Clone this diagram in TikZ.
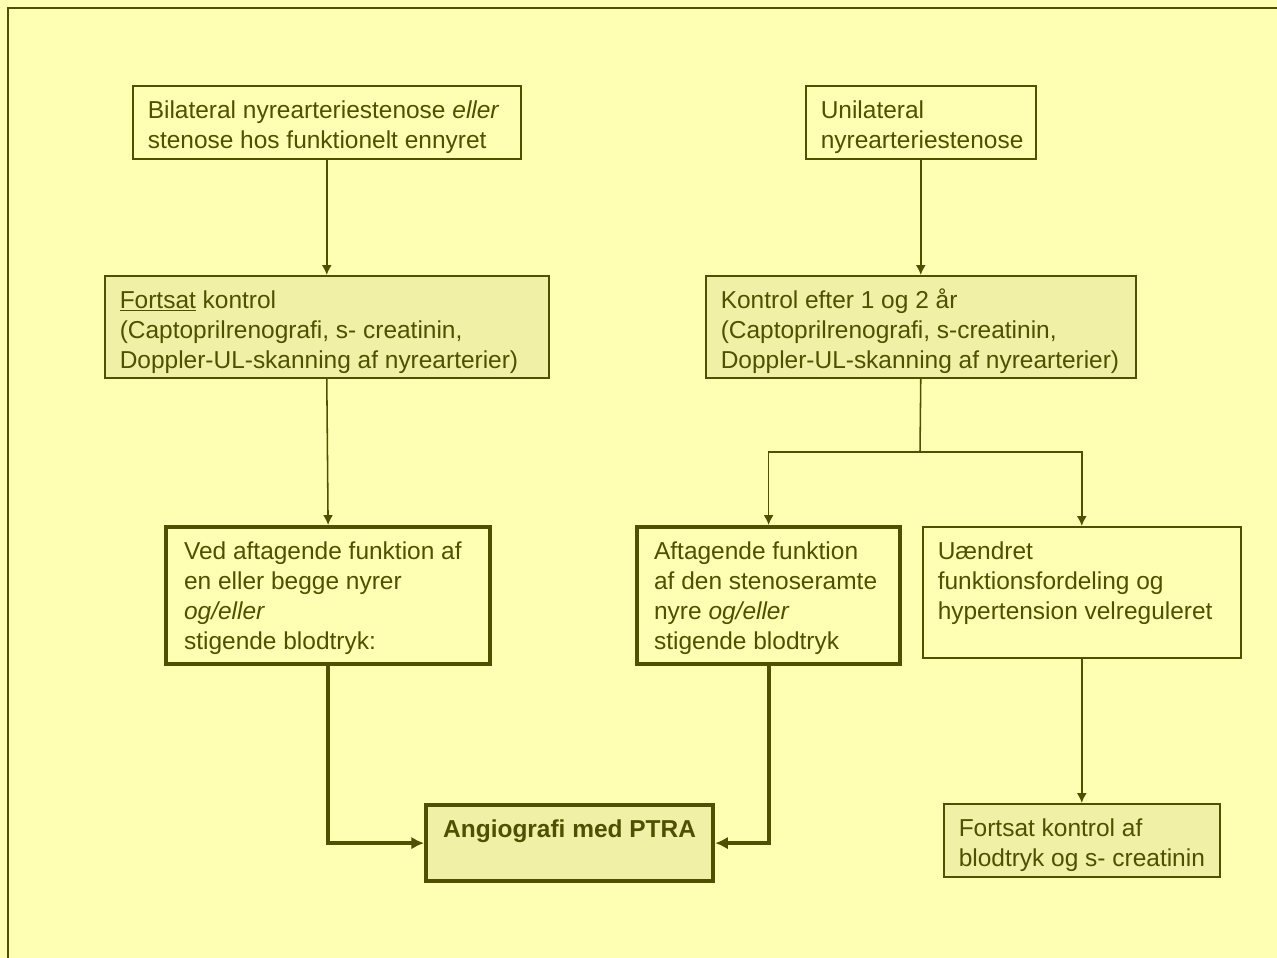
\documentclass[tikz,border=0pt]{standalone}
\usepackage{fontspec}
\setmainfont{Liberation Sans}
\usetikzlibrary{arrows.meta}

\definecolor{bgyellow}{HTML}{FFFFB3}
\definecolor{boxfill}{HTML}{F0F0A6}
\definecolor{olivedark}{HTML}{505000}

\newlength{\unitpx}
\setlength{\unitpx}{0.025cm}
% box text: [left pad]{width}{height}{text}, all in px
\newcommand{\boxtxt}[4][15]{\parbox[t][#3\unitpx][t]{#2\unitpx}{\vspace*{15\unitpx}\raggedright\leftskip=#1\unitpx\relax #4}}

\tikzset{
  plainbox/.style={draw=olivedark, line width=1.1pt, anchor=north west, inner sep=0pt,
    text=olivedark, font=\fontsize{17.4pt}{21.3pt}\selectfont},
  shadedbox/.style={plainbox, fill=boxfill},
  boldbox/.style={plainbox, line width=3pt},
  link/.style={draw=olivedark, line width=1.1pt, -{Latex[length=7pt,width=7pt]}},
  boldlink/.style={draw=olivedark, line width=2.8pt, -{Latex[length=9pt,width=9pt]}}
}

\begin{document}
\begin{tikzpicture}[x=0.025cm, y=-0.025cm]
			
			\fill[bgyellow] (0,0) rectangle (1277,958);
			\useasboundingbox (0,0) rectangle (1277,958);
			\draw[olivedark, line width=1.4pt] (8,958) -- (8,8) -- (1277,8);
			
			\node[plainbox] (bil) at (132,85) {\boxtxt{388}{73}{Bilateral nyrearteriestenose \emph{eller}\\ stenose hos funktionelt ennyret}};
			\node[plainbox] (uni) at (805,85) {\boxtxt{230}{73}{Unilateral\\ nyrearteriestenose}};
			\node[shadedbox] (fortsat) at (104,275) {\boxtxt{444}{102}{\underline{Fortsat} kontrol\\ (Captoprilrenografi, s- creatinin,\\ Doppler-UL-skanning af nyrearterier)}};
			\node[shadedbox] (kontrol) at (705,275) {\boxtxt{430}{102}{Kontrol efter 1 og 2 \smash{å}r\\ (Captoprilrenografi, s-creatinin,\\ Doppler-UL-skanning af nyrearterier)}};
			\node[boldbox, fill=bgyellow] (ved) at (164,525) {\boxtxt[18]{324}{137}{Ved aftagende funktion af\\ en eller begge nyrer\\ \emph{og/eller}\\ stigende blodtryk:}};
			\node[boldbox, fill=bgyellow] (aftag) at (635,525) {\boxtxt[17]{263}{137}{Aftagende funktion\\ af den stenoseramte\\ nyre \emph{og/eller}\\ stigende blodtryk}};
			\node[plainbox] (uaendret) at (922,526) {\boxtxt{318}{131}{Uændret\\ funktionsfordeling og\\ hypertension velreguleret}};
			\node[boldbox, fill=boxfill] (angio) at (424,803) {\boxtxt{287}{76}{\centering\textbf{Angiografi med PTRA}}};
			\node[shadedbox] (kontrolbt) at (943,803) {\boxtxt{276}{73}{Fortsat kontrol af\\ blodtryk og s- creatinin}};
			
			\coordinate (split) at (920,452);
			
			\draw[link] (bil.south) -- (fortsat.north);
			\draw[link] (uni.south) -- (kontrol.north);
			\draw[link] (fortsat.south) -- (ved.north);
			\draw[olivedark, line width=1.1pt] (kontrol.south) -- (split);
			\draw[link] (split) -| (aftag.north);
			\draw[link] (split) -| (uaendret.north);
			\draw[link] (uaendret.south) -- (kontrolbt.north);
			\draw[boldlink] (ved.south) |- (angio.west);
			\draw[boldlink] (aftag.south) |- (angio.east);
		\end{tikzpicture}
\end{document}
